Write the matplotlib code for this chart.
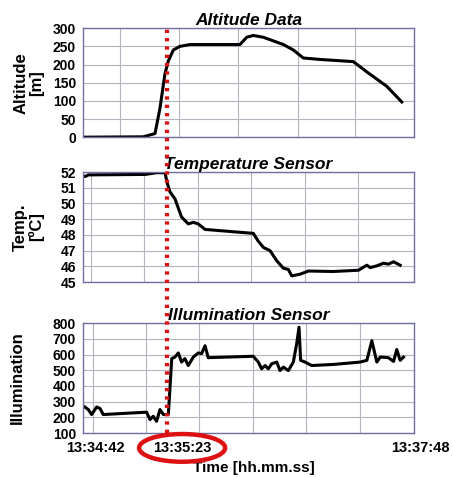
import matplotlib.pyplot as plt
from matplotlib.lines import Line2D
from matplotlib.patches import Ellipse

plt.rcParams['font.family'] = ['Liberation Sans', 'DejaVu Sans']
plt.rcParams['font.weight'] = 'bold'

# time in seconds after 13:34:42
alt_t = [0, 33.9, 40.5, 43.3, 46.1, 48.0, 50.8, 54.5, 60.1, 88.2, 92.0, 95.7, 101.4,
         107.0, 112.6, 118.2, 123.8, 133.2, 151.9, 159.4, 170.7, 179.1]
alt_v = [0, 1, 10, 80, 175, 210, 240, 250, 255, 255, 275, 280, 275,
         265, 255, 240, 218, 214, 208, 180, 140, 97]

temp_t = [0, 1.5, 3, 35, 41.4, 46.1, 47.4, 48.9, 51.7, 55.4, 59.2, 62, 64.8, 68.6, 84.5,
          95.7, 98.5, 101.4, 105.1, 108.9, 112.6, 115.4, 117.3, 122, 126.7, 140.7,
          154.8, 159.5, 161.4, 165.1, 168.8, 171.6, 174.5, 176.3, 178.2]
temp_v = [51.75, 51.72, 51.82, 51.85, 51.96, 51.96, 51.28, 50.74, 50.3, 49.14, 48.7, 48.8,
          48.7, 48.35, 48.2, 48.1, 47.6, 47.2, 47.0, 46.35, 45.88, 45.8, 45.39, 45.5,
          45.7, 45.67, 45.75, 46.07, 45.92, 46.03, 46.2, 46.14, 46.29, 46.18, 46.07]

ill_t = [1.1, 3, 4.9, 7.7, 9.6, 11.4, 35.8, 37.7, 39.5, 41.4, 43.3, 45.2, 48, 49.9, 51.7,
         53.6, 55.4, 57.3, 59.2, 62, 64.8, 66.7, 68.6, 70.4, 95.7, 98.5, 100.4, 102.3,
         104.2, 106, 108.9, 110.7, 112.6, 115.4, 118.2, 120.1, 121.4, 122.3, 124.8,
         128.5, 140.7, 155.7, 159.5, 162.3, 165.1, 167, 171.6, 174.5, 176.3, 178.2, 180.1]
ill_v = [266, 250, 218, 266, 257, 218, 233, 186, 207, 175, 250, 218, 218, 574, 584,
         610, 552, 574, 530, 584, 610, 606, 656, 580, 589, 552, 509, 530,
         509, 541, 552, 498, 520, 498, 552, 671, 774, 563, 552,
         530, 537, 552, 563, 688, 552, 584, 580, 556, 632, 563, 584]

time_labels = ['13:34:42', '13:35:23', '13:37:48']

fig = plt.figure(figsize=(4.53, 4.78), dpi=100)
frame = '#7070a0'

panels = [
    ([0.183, 0.713, 0.731, 0.228], alt_t, alt_v, (0, 300), list(range(0, 301, 50)),
     'Altitude Data', 'Altitude\n[m]', -0.118, [21, 54, 87, 121, 153]),
    ([0.183, 0.410, 0.731, 0.230], temp_t, temp_v, (45, 52), list(range(45, 53)),
     'Temperature Sensor', 'Temp.\n[ºC]', -0.118, [4.5, 34.5, 64.5, 94.5, 124.5, 154.5]),
    ([0.183, 0.094, 0.731, 0.230], ill_t, ill_v, (100, 800), list(range(100, 801, 100)),
     'Illumination Sensor', 'Illumination', -0.175, [5.4, 35.4, 65.4, 95.4, 125.4, 155.4]),
]

for rect, t, v, ylim, yticks, title, ylabel, labx, vgrid in panels:
    ax = fig.add_axes(rect)
    ax.plot(t, v, color='black', lw=2.2)
    ax.set_xlim(0, 186)
    ax.set_ylim(*ylim)
    ax.set_yticks(yticks)
    ax.set_xticks(vgrid)
    ax.set_xticklabels([])
    ax.grid(True, color='#b4b4c0', lw=0.8)
    ax.tick_params(axis='both', length=0, labelsize=10, pad=5)
    for lab in ax.get_yticklabels():
        lab.set_fontweight('bold')
    for s in ax.spines.values():
        s.set_color(frame)
        s.set_linewidth(1.0)
    ax.set_title(title, fontsize=12.5, fontweight='bold', style='italic', pad=1)
    ax.set_ylabel(ylabel, fontsize=12, fontweight='bold', linespacing=1.0)
    ax.yaxis.set_label_coords(labx, 0.5)

# red marker line across all panels
fig.add_artist(Line2D([0.3687, 0.3687], [0.094, 0.945], transform=fig.transFigure,
                      color='#dd1111', lw=3, linestyle=(0, (0.8, 1.2)), zorder=5))

fig.text(0.56, 0.021, 'Time [hh.mm.ss]', ha='center', va='center', fontsize=11, fontweight='bold')
fig.add_artist(Ellipse((0.402, 0.063), 0.19, 0.058, transform=fig.transFigure,
                       facecolor='white', edgecolor='#dd1111', lw=3.2, zorder=6))
fig.text(0.21, 0.063, time_labels[0], ha='center', va='center', fontsize=10.5, fontweight='bold')
fig.text(0.402, 0.063, time_labels[1], ha='center', va='center', fontsize=10.5, fontweight='bold', zorder=7)
fig.text(0.927, 0.063, time_labels[2], ha='center', va='center', fontsize=10.5, fontweight='bold')

fig.savefig('out.png', dpi=100)
